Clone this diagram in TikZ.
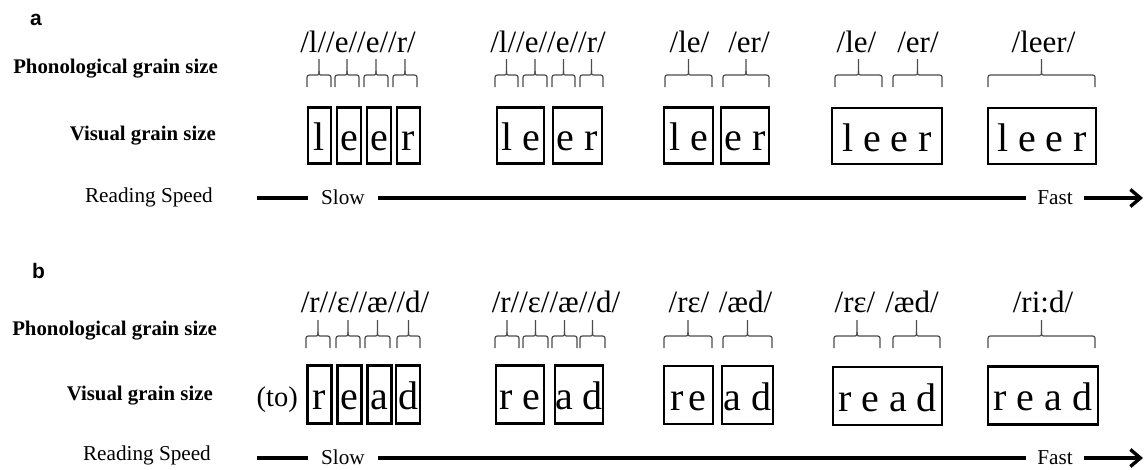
\documentclass[tikz,border=0pt]{standalone}
\usepackage{fontspec}
\setmainfont{Liberation Serif}
\newfontfamily\panelfont{Liberation Sans}
\usetikzlibrary{arrows.meta}
\newcommand\lblfont{\fontsize{20.8}{22}\selectfont\bfseries}
\newcommand\boxfont{\fontsize{40}{42}\selectfont}
\newcommand\phonfont{\fontsize{31}{33}\selectfont}
\newcommand\spdfont{\fontsize{21.2}{23}\selectfont}
\newcommand\grainbrace[4]{%
  \pgfmathsetmacro\gbm{(#1+#2)/2}%
  \pgfmathsetmacro\gbh{#3-12}%
  \draw[bracestyle] (#1,#3) -- (#1,\gbh+5) .. controls (#1,\gbh) .. (#1+5,\gbh) -- (\gbm-4,\gbh) .. controls (\gbm,\gbh) .. (\gbm,\gbh-4) -- (\gbm,#4);
  \draw[bracestyle] (#2,#3) -- (#2,\gbh+5) .. controls (#2,\gbh) .. (#2-5,\gbh) -- (\gbm+4,\gbh) .. controls (\gbm,\gbh) .. (\gbm,\gbh-4);
}
\tikzset{
  lbl/.style={font=\lblfont, inner sep=0pt, anchor=base east},
  gbox/.style={draw, line width=2.3pt, inner sep=0pt, text height=30pt, text depth=0pt, font=\boxfont},
  phon/.style={font=\phonfont, inner sep=0pt, anchor=base},
  speedline/.style={line width=3.4pt},
  spd/.style={font=\spdfont, text height=13pt, text depth=1pt, inner ysep=0pt, inner xsep=11pt},
  bracestyle/.style={line width=1.2pt, draw=black!70},
  panel/.style={font=\panelfont\fontsize{21}{22}\selectfont\bfseries, inner sep=0pt, anchor=base west},
  spdarrow/.style={speedline, -{Straight Barb[length=10pt,width=17pt,line width=3.4pt]}},
}
\begin{document}
\begin{tikzpicture}[x=1pt,y=-1pt]
\useasboundingbox (0,0) rectangle (1145,469);
% ---------------- panel a ----------------
\node[panel] (pa) at (30,25) {a};
\node[lbl] (phonA) at (218,73.5) {Phonological grain size};
\node[lbl] (visA) at (216,140.3) {Visual grain size};
\node[lbl, font=\spdfont] (rsA) at (213,202) {Reading Speed};
% phoneme texts
\node[phon] (pa1) at (358,52) {/l//e//e//r/};
\node[phon] (pa2) at (548,52) {/l//e//e//r/};
\node[phon] (pa3a) at (689.5,52) {/le/};
\node[phon] (pa3b) at (749,52) {/er/};
\node[phon] (pa4a) at (856.5,52) {/le/};
\node[phon] (pa4b) at (918,52) {/er/};
\node[phon] (pa5) at (1043.5,52) {/leer/};
% braces
\grainbrace{307}{331}{87}{59}
\grainbrace{335}{359}{87}{59}
\grainbrace{364}{388}{87}{59}
\grainbrace{393}{417}{87}{59}
\grainbrace{495}{518}{87}{59}
\grainbrace{523}{547}{87}{59}
\grainbrace{552}{575}{87}{59}
\grainbrace{580}{603}{87}{59}
\grainbrace{665}{712}{87}{59}
\grainbrace{723}{769}{87}{59}
\grainbrace{835}{882}{87}{59}
\grainbrace{893}{942}{87}{59}
\grainbrace{988}{1095}{87}{59}
% boxes
\node[gbox, minimum width=23pt, minimum height=56pt] (ba11) at (319.5,135.5) {l};
\node[gbox, minimum width=24pt, minimum height=56pt] (ba12) at (349,135.5) {e};
\node[gbox, minimum width=24pt, minimum height=56pt] (ba13) at (379,135.5) {e};
\node[gbox, minimum width=23pt, minimum height=56pt] (ba14) at (408.5,135.5) {r};
\node[gbox, minimum width=47pt, minimum height=56pt] (ba21) at (520.5,135.5) {l e};
\node[gbox, minimum width=49pt, minimum height=56pt] (ba22) at (577.5,135.5) {e r};
\node[gbox, minimum width=49pt, minimum height=56pt] (ba31) at (688.5,135.5) {l e};
\node[gbox, minimum width=48pt, minimum height=56pt] (ba32) at (745,135.5) {e r};
\node[gbox, minimum width=110pt, minimum height=56pt] (ba4) at (887,136) {l e e r};
\node[gbox, minimum width=108pt, minimum height=56pt] (ba5) at (1042,136) {l e e r};
% speed line
\coordinate (sa) at (257,198);
\coordinate (ea) at (1143,198);
\node[spd, inner xsep=13pt] (slowA) at (343,198) {Slow};
\node[spd] (fastA) at (1055,198) {Fast};
\draw[speedline] (sa) -- (slowA);
\draw[speedline] (slowA) -- (fastA);
\draw[spdarrow] (fastA) -- (ea);
% ---------------- panel b ----------------
\node[panel] (pb) at (32,278) {b};
\node[lbl] (phonB) at (217,335) {Phonological grain size};
\node[lbl] (visB) at (213,400.3) {Visual grain size};
\node[lbl, font=\spdfont] (rsB) at (211,460) {Reading Speed};
\node[phon, anchor=base east, font=\fontsize{28.5}{30}\selectfont] (to) at (298,406) {(to)};
% phoneme texts
\node[phon] (pb1) at (365,312) {/r//ɛ//æ//d/};
\node[phon] (pb2) at (556,312) {/r//ɛ//æ//d/};
\node[phon] (pb3a) at (689,312) {/rɛ/};
\node[phon] (pb3b) at (745.5,312) {/æd/};
\node[phon] (pb4a) at (855,312) {/rɛ/};
\node[phon] (pb4b) at (912,312) {/æd/};
\node[phon] (pb5) at (1043,312) {/ri:d/};
% braces
\grainbrace{306}{330}{348}{320}
\grainbrace{336}{360}{348}{320}
\grainbrace{365}{390}{348}{320}
\grainbrace{397}{420}{348}{320}
\grainbrace{495}{519}{348}{320}
\grainbrace{523}{548}{348}{320}
\grainbrace{552}{577}{348}{320}
\grainbrace{580}{605}{348}{320}
\grainbrace{664}{712}{348}{320}
\grainbrace{723}{772}{348}{320}
\grainbrace{834}{880}{348}{320}
\grainbrace{893}{940}{348}{320}
\grainbrace{988}{1095}{348}{320}
% boxes
\node[gbox, minimum width=24pt, minimum height=58pt] (bb11) at (319.5,394.5) {r};
\node[gbox, minimum width=24pt, minimum height=58pt] (bb12) at (349.5,394.5) {e};
\node[gbox, minimum width=24pt, minimum height=58pt] (bb13) at (379.5,394.5) {a};
\node[gbox, minimum width=24pt, minimum height=58pt] (bb14) at (408,394.5) {d};
\node[gbox, minimum width=48pt, minimum height=58pt] (bb21) at (520,394.5) {r e};
\node[gbox, minimum width=48pt, minimum height=58pt] (bb22) at (579,394.5) {a d};
\node[gbox, minimum width=49pt, minimum height=58pt] (bb31) at (688.5,395) {r\kern0.12em e};
\node[gbox, minimum width=51pt, minimum height=58pt] (bb32) at (747.5,395) {a d};
\node[gbox, minimum width=109pt, minimum height=58pt] (bb4) at (887.5,396) {r e a d};
\node[gbox, minimum width=110pt, minimum height=58pt] (bb5) at (1043,395.5) {r e a d};
% speed line
\coordinate (sb) at (257,458);
\coordinate (eb) at (1143,458);
\node[spd, inner xsep=13pt] (slowB) at (343,458) {Slow};
\node[spd] (fastB) at (1055,458) {Fast};
\draw[speedline] (sb) -- (slowB);
\draw[speedline] (slowB) -- (fastB);
\draw[spdarrow] (fastB) -- (eb);
\end{tikzpicture}
\end{document}
